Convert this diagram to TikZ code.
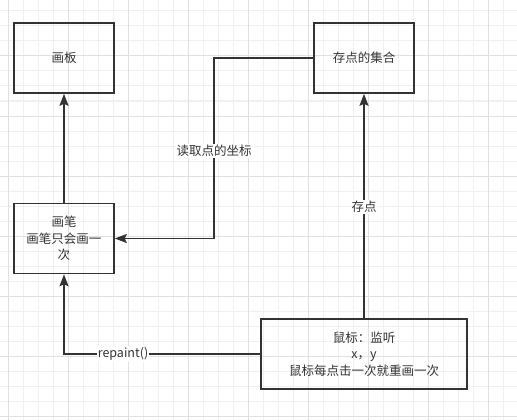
\documentclass[tikz,border=0pt]{standalone}
\usepackage{fontspec}
\setmainfont{Noto Sans CJK SC}
\usetikzlibrary{arrows.meta}
\definecolor{linegray}{HTML}{333333}
\definecolor{minorgrid}{HTML}{F0F0F0}
\definecolor{majorgrid}{HTML}{E0E0E0}
\begin{document}
\begin{tikzpicture}[x=1pt,y=-1pt,
  box/.style={draw=linegray,line width=1.6pt,minimum width=100pt,minimum height=70pt,
    inner sep=0pt,align=center,text=linegray,font=\fontsize{12.5}{16.5}\selectfont},
  link/.style={draw=linegray,line width=1.6pt},
  arr/.style={link,-{Stealth[length=12pt,width=9pt,inset=2pt]}},
  tag/.style={fill=white,text=linegray,inner sep=1pt,font=\fontsize{12.5}{16.5}\selectfont}]
\useasboundingbox (0,0) rectangle (517,420);
\fill[white] (0,0) rectangle (517,420);
% grid
\foreach \x in {8.3,23.3,...,517} \draw[minorgrid,line width=1pt] (\x,0) -- (\x,420);
\foreach \y in {11,26,...,420} \draw[minorgrid,line width=1pt] (0,\y) -- (517,\y);
\foreach \x in {8.3,68.3,...,517} \draw[majorgrid,line width=1pt] (\x,0) -- (\x,420);
\foreach \y in {56,116,...,420} \draw[majorgrid,line width=1pt] (0,\y) -- (517,\y);

\node[box] (board) at (64,58) {画板};
\node[box] (store) at (364,58) {存点的集合};
\node[box] (pen) at (64,238.5) {画笔\\画笔只会画一\\次};
\node[box,minimum width=206pt] (mouse) at (364,354) {鼠标：监听\\x，y\\鼠标每点击一次就重画一次};

\coordinate (k1) at (214,238.5);
\coordinate (k2) at (64,354);

\draw[arr] (pen) -- (board);
\draw[arr] (store.west) -| (k1) -- (pen.east);
\draw[arr] (mouse) -- (store);
\draw[arr] (mouse.west) -- (k2) -- (pen.south);

\node[tag] (readlbl) at (214,151) {读取点的坐标};
\node[tag] (savelbl) at (364,207) {存点};
\node[tag] (paintlbl) at (123,354) {repaint()};
\end{tikzpicture}
\end{document}
